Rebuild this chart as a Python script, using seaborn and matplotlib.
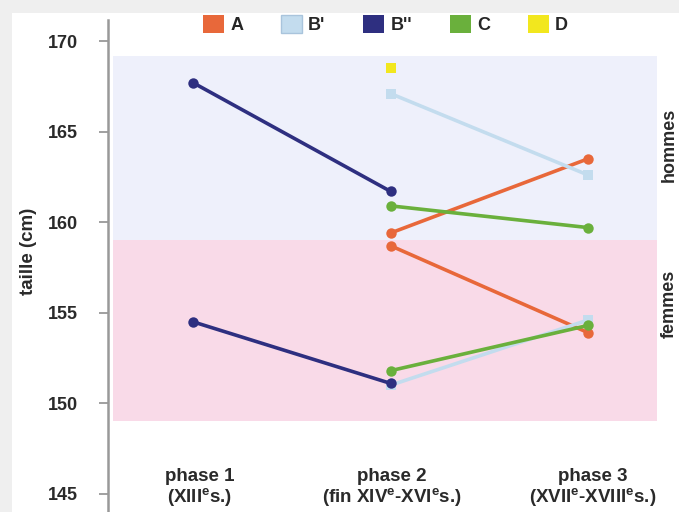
import matplotlib
matplotlib.use('Agg')
import matplotlib.pyplot as plt
import numpy as np
import pandas as pd
import seaborn as sns
from matplotlib.patches import Patch, Rectangle

# Data
phases = ['phase 1\n(XIII$^{e}$s.)', 'phase 2\n(fin XIV$^{e}$-XVI$^{e}$s.)',
          'phase 3\n(XVII$^{e}$-XVIII$^{e}$s.)']
groups = ['A', "B'", "B''", 'C', 'D']
hommes = {
    'A': [np.nan, 159.4, 163.5],
    "B'": [np.nan, 167.1, 162.6],
    "B''": [167.7, 161.7, np.nan],
    'C': [np.nan, 160.9, 159.7],
    'D': [np.nan, 168.5, np.nan],
}
femmes = {
    'A': [np.nan, 158.7, 153.9],
    "B'": [np.nan, 151.0, 154.6],
    "B''": [154.5, 151.1, np.nan],
    'C': [np.nan, 151.8, 154.3],
}
band_hommes = (159.0, 169.2)
band_femmes = (149.0, 159.0)
yticks = [145, 150, 155, 160, 165, 170]

colors = {'A': '#e8683a', "B'": '#c3dcee', "B''": '#2e2f80', 'C': '#6ab03c', 'D': '#f2e71e'}
markers = {'A': 'o', "B'": 's', "B''": 'o', 'C': 'o', 'D': 's'}

rows = []
for sexe, d in [('hommes', hommes), ('femmes', femmes)]:
    for g, vals in d.items():
        for i, v in enumerate(vals):
            if not np.isnan(v):
                rows.append({'sexe': sexe, 'groupe': g, 'phase': i, 'taille': v})
df = pd.DataFrame(rows)

sns.set_style('white')
plt.rcParams['font.family'] = ['Liberation Sans', 'DejaVu Sans']
plt.rcParams['font.weight'] = 'bold'
plt.rcParams['mathtext.default'] = 'regular'
txt_color = '#2a2a2a'

fig = plt.figure(figsize=(6.79, 5.12), dpi=100)
fig.patch.set_facecolor('#efefef')
fig.add_artist(Rectangle((12 / 679, 0), 1, 1 - 13 / 512, transform=fig.transFigure,
                         facecolor='white', edgecolor='none', zorder=-10))

ax = fig.add_axes([108 / 679, 0, 1 - 108 / 679, 1 - 20 / 512])
ax.set_facecolor('none')
ax.set_xlim(-0.43, 2.46)
ax.set_ylim(144.0, 171.16)

ax.axhspan(*band_hommes, xmin=0.009, xmax=0.961, color='#eef0fb', zorder=0, lw=0)
ax.axhspan(*band_femmes, xmin=0.009, xmax=0.961, color='#f9dae8', zorder=0, lw=0)

for sexe in ['hommes', 'femmes']:
    sub = df[df['sexe'] == sexe]
    for g in groups:
        s = sub[sub['groupe'] == g]
        if s.empty:
            continue
        sns.lineplot(data=s, x='phase', y='taille', color=colors[g], marker=markers[g],
                     markersize=7.5, markeredgewidth=0, linewidth=2.6, ax=ax,
                     legend=False, zorder=3)

# phase labels sit inside the plot area
label_dx = [0.035, 0.005, 0.025]
for i, lab in enumerate(phases):
    ax.text(i + label_dx[i], 145.33, lab, ha='center', va='center', fontsize=13.5,
            fontweight='bold', color=txt_color, linespacing=1.08)

for sp in ['top', 'right', 'bottom']:
    ax.spines[sp].set_visible(False)
ax.spines['left'].set_color('#999999')
ax.spines['left'].set_linewidth(1.8)
ax.set_xticks([])
ax.set_yticks(yticks)
ax.tick_params(axis='y', left=True, length=6.5, width=1.3, color='#999999', pad=15,
               labelsize=13, labelcolor=txt_color)
ax.set_xlabel('')
ax.set_ylabel('taille (cm)', fontsize=13.5, fontweight='bold', color=txt_color)
ax.yaxis.set_label_coords(-0.124, 0.53)

handles = [Patch(facecolor=colors[g], edgecolor='#a9c4dc' if g == "B'" else 'none',
                 label=g) for g in groups]
ax.legend(handles=handles, loc='center', bbox_to_anchor=(0.486, 0.99), ncol=5,
          frameon=False, handlelength=1.15, handleheight=1.15,
          handletextpad=0.35, columnspacing=2.1,
          prop={'weight': 'bold', 'size': 13})

fig.text(669 / 679, 1 - 145 / 512, 'hommes', rotation=90, ha='center', va='center',
         fontsize=13, fontweight='bold', color=txt_color)
fig.text(669 / 679, 1 - 304 / 512, 'femmes', rotation=90, ha='center', va='center',
         fontsize=13, fontweight='bold', color=txt_color)

fig.savefig('out.png', dpi=100, facecolor=fig.get_facecolor())
